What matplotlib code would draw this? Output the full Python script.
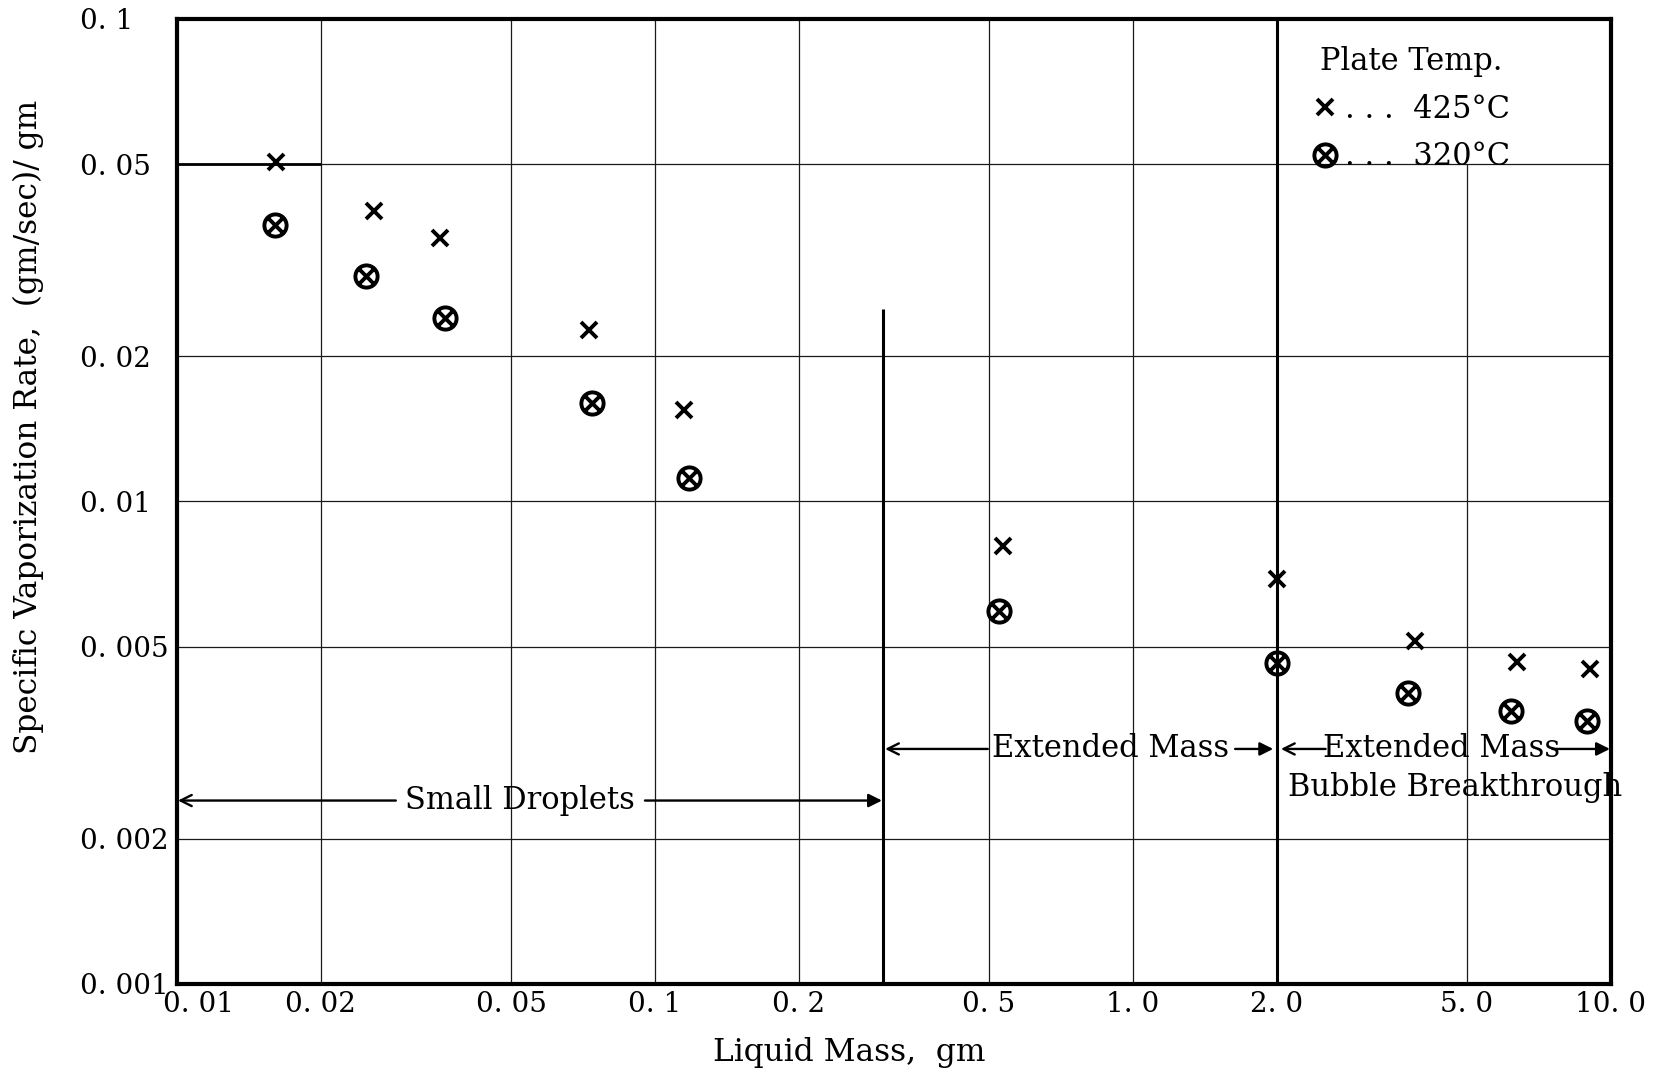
import matplotlib
matplotlib.use("Agg")
import matplotlib.pyplot as plt
from matplotlib.path import Path
from matplotlib.ticker import NullLocator
from matplotlib.transforms import ScaledTranslation

# Liquid mass (gm) and specific vaporization rate ((gm/sec)/gm) for each plate temperature
mass_425 = [0.0161, 0.0258, 0.0355, 0.0727, 0.115, 0.534, 2.0, 3.90, 6.36, 9.06]
rate_425 = [0.0505, 0.0400, 0.0351, 0.0227, 0.0155, 0.0081, 0.0069, 0.00514, 0.00464, 0.00449]
mass_320 = [0.0160, 0.0249, 0.0363, 0.0738, 0.118, 0.524, 2.0, 3.76, 6.17, 8.93]
rate_320 = [0.0375, 0.0294, 0.0240, 0.0160, 0.0112, 0.00592, 0.00462, 0.00401, 0.00368, 0.00351]

x_ticks = [0.01, 0.02, 0.05, 0.1, 0.2, 0.5, 1.0, 2.0, 5.0, 10.0]
x_tick_labels = ["0. 01", "0. 02", "0. 05", "0. 1", "0. 2", "0. 5", "1. 0", "2. 0", "5. 0", "10. 0"]
y_ticks = [0.001, 0.002, 0.005, 0.01, 0.02, 0.05, 0.1]
y_tick_labels = ["0. 001", "0. 002", "0. 005", "0. 01", "0. 02", "0. 05", "0. 1"]

legend_title = "Plate Temp."
series_labels = [". . .  425°C", ". . .  320°C"]

# regime boundaries on the mass axis
small_droplet_limit = 0.3
bubble_limit = 2.0
boundary_top = 0.025

plt.rcParams["font.family"] = ["DejaVu Serif", "DejaVu Sans"]
plt.rcParams["font.size"] = 20
note_size = 22
label_size = 22.5

fig = plt.figure(figsize=(16.63, 10.78), dpi=100)
ax = fig.add_axes([0.1064, 0.0872, 0.8623, 0.8952])
ax.set_xscale("log")
ax.set_yscale("log")
ax.set_xlim(x_ticks[0], x_ticks[-1])
ax.set_ylim(y_ticks[0], y_ticks[-1])

# grid: the legend cell (right of the bubble limit, above 0.05) has no rulings
for xv in x_ticks[1:-1]:
    top = 0.05 if xv > bubble_limit else y_ticks[-1]
    ax.vlines(xv, y_ticks[0], top, color="#1a1a1a", lw=0.9, zorder=1)
for yv in y_ticks[1:-1]:
    ax.axhline(yv, color="#1a1a1a", lw=0.9, zorder=1)
ax.hlines(0.05, x_ticks[0], 0.02, color="black", lw=2.0, zorder=1)

# regime boundaries
ax.vlines(small_droplet_limit, y_ticks[0], boundary_top, color="black", lw=2.2, zorder=2)
ax.axvline(bubble_limit, color="black", lw=2.2, zorder=2)

# circle with a cross inside for the 320 C points
d = 0.62
cross = Path([(-d, -d), (d, d), (-d, d), (d, -d)],
             [Path.MOVETO, Path.LINETO, Path.MOVETO, Path.LINETO])
circled_x = Path.make_compound_path(Path.unit_circle(), cross)

h425, = ax.plot(mass_425, rate_425, linestyle="none", marker="x", markersize=11,
                markeredgewidth=2.8, color="black", zorder=4)
h320, = ax.plot(mass_320, rate_320, linestyle="none", marker=circled_x, markersize=16,
                markerfacecolor="none", markeredgecolor="black", markeredgewidth=2.8, zorder=4)

leg = ax.legend(handles=[h425, h320], labels=series_labels, title=legend_title,
                loc="upper center", bbox_to_anchor=(0.861, 0.988), frameon=False,
                handlelength=0.8, handletextpad=0.25, labelspacing=0.55, borderpad=0,
                fontsize=note_size, title_fontsize=note_size)

# regime annotations
def arrow(tail, tip, y, style):
    ax.annotate("", xy=(tip, y), xytext=(tail, y),
                arrowprops=dict(arrowstyle=style, color="black", lw=1.7,
                                shrinkA=0, shrinkB=0, mutation_scale=20), zorder=3)

y_small = 0.0024
arrow(0.0287, x_ticks[0] * 1.005, y_small, "->")
arrow(0.0953, small_droplet_limit * 0.995, y_small, "-|>")
ax.text(0.0521, y_small, "Small Droplets", ha="center", va="center", fontsize=note_size, zorder=3)

y_ext = 0.00307
arrow(0.497, small_droplet_limit * 1.01, y_ext, "->")
arrow(1.636, 1.965, y_ext, "-|>")
ax.text(0.897, y_ext, "Extended Mass", ha="center", va="center", fontsize=note_size, zorder=3)

arrow(2.53, 2.04, y_ext, "->")
arrow(7.54, 9.95, y_ext, "-|>")
ax.text(4.42, y_ext, "Extended Mass", ha="center", va="center", fontsize=note_size, zorder=3)
ax.text(4.72, 0.00255, "Bubble Breakthrough", ha="center", va="center", fontsize=note_size,
        zorder=3, clip_on=False)

# axes, ticks and labels
ax.xaxis.set_minor_locator(NullLocator())
ax.yaxis.set_minor_locator(NullLocator())
ax.set_xticks(x_ticks)
ax.set_xticklabels(x_tick_labels)
ax.set_yticks(y_ticks)
ax.set_yticklabels(y_tick_labels)
ax.tick_params(axis="x", length=0, pad=5)
ax.tick_params(axis="y", length=0, pad=70)
for lab in ax.get_yticklabels():
    lab.set_horizontalalignment("left")
first = ax.get_xticklabels()[0]
first.set_transform(first.get_transform() + ScaledTranslation(0.22, 0, fig.dpi_scale_trans))

for sp in ax.spines.values():
    sp.set_linewidth(3.0)
    sp.set_color("black")

ax.set_xlabel("Liquid Mass,  gm", fontsize=label_size)
ax.xaxis.label.set_verticalalignment("center")
ax.xaxis.set_label_coords(0.4686, -0.0705)
ax.set_ylabel("Specific Vaporization Rate,  (gm/sec)/ gm", fontsize=label_size)
ax.yaxis.label.set_verticalalignment("center")
ax.yaxis.set_label_coords(-0.1035, 0.577)

fig.savefig("out.png", dpi=100, facecolor="white")
